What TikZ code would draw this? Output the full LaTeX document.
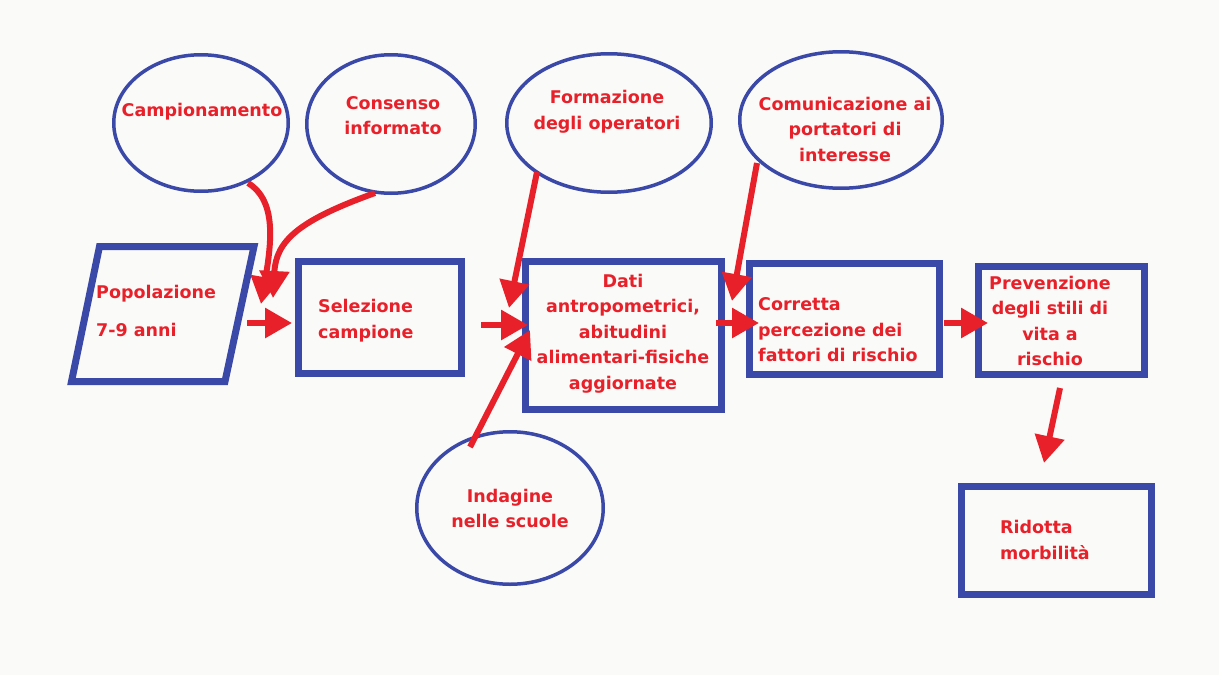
\documentclass[tikz,border=0pt]{standalone}
\usepackage{fontspec}
\setmainfont{DejaVu Sans}
\usetikzlibrary{arrows.meta,shapes.geometric}
\definecolor{bl}{RGB}{58,72,168}
\definecolor{rd}{RGB}{232,32,42}
\definecolor{bg}{RGB}{250,250,248}
\begin{document}
\begin{tikzpicture}[x=1pt,y=-1pt,
 box/.style={draw=bl,line width=7pt,inner sep=0pt,outer sep=0pt},
 oval/.style={ellipse,draw=bl,line width=3.5pt,inner sep=0pt,outer sep=0pt},
 txt/.style={text=rd,font=\fontsize{17.5}{25.5}\selectfont\bfseries,inner sep=0pt,align=center},
 ltxt/.style={txt,align=left,anchor=west},
 arr/.style={draw=rd,line width=6pt,-{Triangle[length=27pt,width=29pt]}}]
\fill[bg] (0,0) rectangle (1219,675);
% parallelogram
\draw[bl,line width=7pt,line join=miter] (99.5,246.5) -- (254,246.5) -- (225,381.5) -- (71.5,381.5) -- cycle;
\node[inner sep=0pt] (pop) at (162.5,314) {};
% boxes
\node[box,minimum width=163pt,minimum height=112pt] (sel) at (380,317.5) {};
\node[box,minimum width=196pt,minimum height=148pt] (dati) at (623.5,335.5) {};
\node[box,minimum width=190pt,minimum height=111pt] (corr) at (844.5,319) {};
\node[box,minimum width=166pt,minimum height=108pt] (prev) at (1061.5,320.5) {};
\node[box,minimum width=190pt,minimum height=108pt] (rid) at (1056.5,540.5) {};
% ellipses
\node[oval,minimum width=174.5pt,minimum height=136.5pt] (camp) at (201,123) {};
\node[oval,minimum width=168.5pt,minimum height=138.5pt] (cons) at (391,124) {};
\node[oval,minimum width=204.5pt,minimum height=138.5pt] (form) at (609,123) {};
\node[oval,minimum width=202.5pt,minimum height=136.5pt] (comm) at (841,120) {};
\node[oval,minimum width=186.5pt,minimum height=152.5pt] (ind) at (510,508) {};
% texts
\node[txt] (tcamp) at (202,112) {Campionamento};
\node[txt] (tcons) at (393,115.5) {Consenso\\informato};
\node[txt] (tform) at (607,111.5) {Formazione\\degli operatori};
\node[txt] (tcomm) at (845,129) {Comunicazione ai\\portatori di\\interesse};
\node[ltxt,font=\fontsize{17.5}{38}\selectfont\bfseries] (tpop) at (96,311) {Popolazione\\7-9 anni};
\node[ltxt] (tsel) at (318,320.5) {Selezione\\campione};
\node[txt] (tdati) at (623,333.5) {Dati\\antropometrici,\\abitudini\\alimentari-fisiche\\aggiornate};
\node[ltxt] (tcorr) at (758,330) {Corretta\\percezione dei\\fattori di rischio};
\node[txt] (tprev) at (1050,321) {Prevenzione\\degli stili di\\vita a\\rischio};
\node[txt] (tind) at (510,508.5) {Indagine\\nelle scuole};
\node[ltxt] (trid) at (1000,540) {Ridotta\\morbilità};
% connector endpoints
\coordinate (a1s) at (248,183); \coordinate (a1e) at (261,304);
\coordinate (a2s) at (375,193); \coordinate (a2e) at (273,298);
\coordinate (a3s) at (247,323); \coordinate (a3e) at (292,323);
\coordinate (a4s) at (481,325); \coordinate (a4e) at (528,325);
\coordinate (a5s) at (537,172); \coordinate (a5e) at (509,308);
\coordinate (a6s) at (470,447); \coordinate (a6e) at (530,330);
\coordinate (a7s) at (716,323); \coordinate (a7e) at (759,323);
\coordinate (a8s) at (757,163); \coordinate (a8e) at (732,301);
\coordinate (a9s) at (944,323); \coordinate (a9e) at (988,323);
\coordinate (a10s) at (1060,388); \coordinate (a10e) at (1044,463);
% arrows
\draw[arr] (a1s) .. controls (276,200) and (272,240) .. (a1e);
\draw[arr] (a2s) .. controls (300,220) and (276,240) .. (a2e);
\draw[arr] (a3s) -- (a3e);
\draw[arr] (a4s) -- (a4e);
\draw[arr] (a5s) -- (a5e);
\draw[arr] (a6s) -- (a6e);
\draw[arr] (a7s) -- (a7e);
\draw[arr] (a8s) -- (a8e);
\draw[arr] (a9s) -- (a9e);
\draw[arr] (a10s) -- (a10e);
\end{tikzpicture}
\end{document}
